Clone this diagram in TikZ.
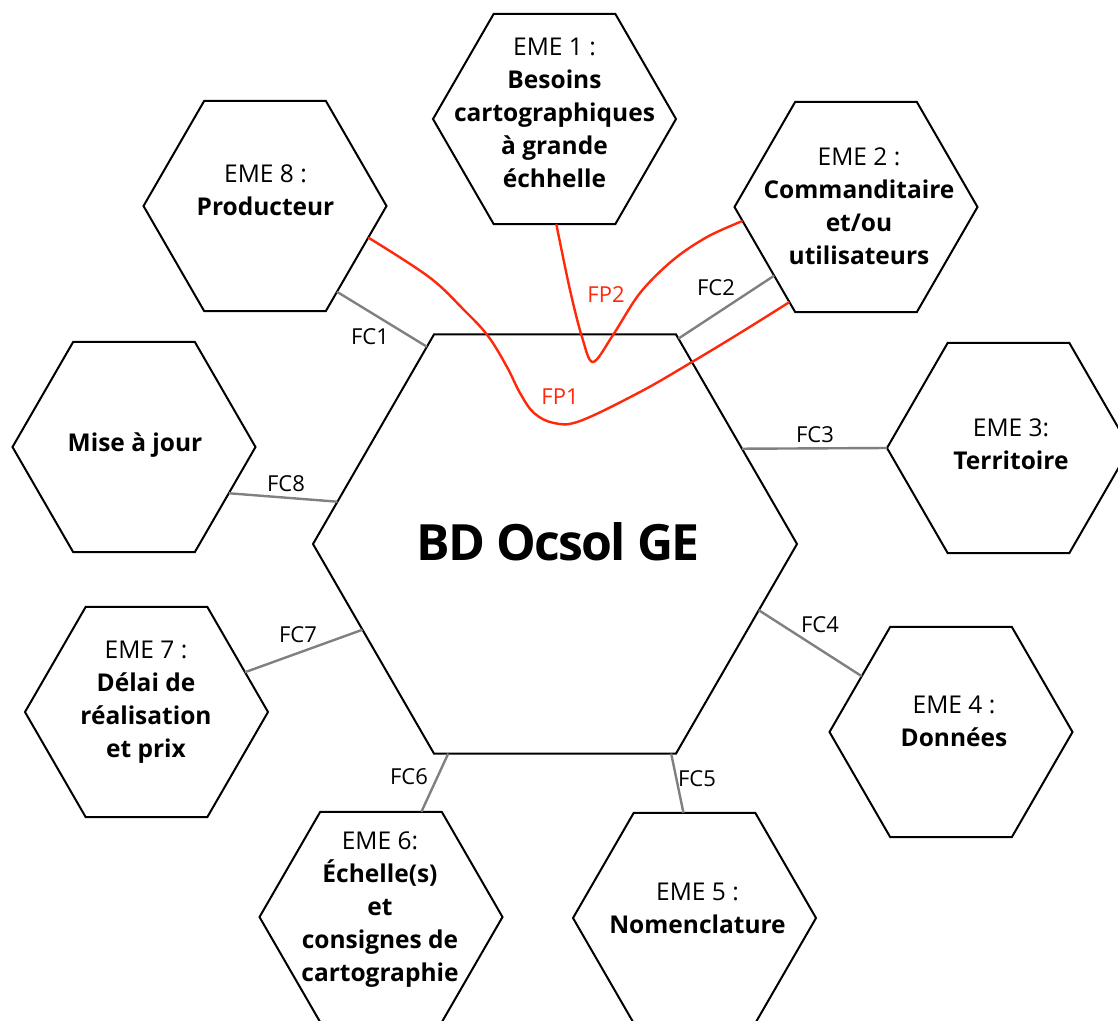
\documentclass[tikz,border=0pt]{standalone}
\usepackage{fontspec}
\setmainfont{Open Sans}
\usetikzlibrary{shapes.geometric}
\definecolor{fpred}{RGB}{255,40,10}
\definecolor{fcgray}{RGB}{128,128,128}
\begin{document}
\begin{tikzpicture}[x=1pt,y=-1pt,
  hexsmall/.style={shape=regular polygon, regular polygon sides=6, minimum size=243pt, inner sep=0pt, outer sep=0pt, draw=black, line width=2pt},
  hexbig/.style={hexsmall, minimum size=484pt},
  lbl/.style={align=center, font=\fontsize{24.5}{33}\selectfont, inner sep=0pt},
  fc/.style={draw=fcgray, line width=2.4pt},
  fp/.style={draw=fpred, line width=2.4pt},
  fclbl/.style={font=\fontsize{22}{26}\selectfont, inner sep=0pt},
  fplbl/.style={fclbl, text=fpred}]
\useasboundingbox (0,0) rectangle (1118,1020);
\clip (0,0) rectangle (1118,1020);

% hexagons
\node[hexbig] (c) at (555,544) {};
\node[hexsmall] (e1) at (554.5,119) {};
\node[hexsmall] (e2) at (856,207) {};
\node[hexsmall] (e3) at (1008.5,448) {};
\node[hexsmall] (e4) at (951,732) {};
\node[hexsmall] (e5) at (694.5,918) {};
\node[hexsmall] (e6) at (381,917) {};
\node[hexsmall] (e7) at (146.5,712) {};
\node[hexsmall] (e8) at (265,206) {};
\node[hexsmall] (emaj) at (134,447) {};

% texts
\node[font=\fontsize{50}{60}\selectfont\bfseries\addfontfeature{LetterSpace=-3.5}, inner sep=0pt] (title) at (558,542) {BD Ocsol GE};
\node[lbl] (t1) at (554.5,112.5) {EME 1 :\\\textbf{Besoins}\\\textbf{cartographiques}\\\textbf{à grande}\\\textbf{échhelle}};
\node[lbl] (t2) at (859,206) {EME 2 :\\\textbf{Commanditaire}\\\textbf{et/ou}\\\textbf{utilisateurs}};
\node[lbl] (t3) at (1011,444.5) {EME 3:\\\textbf{Territoire}};
\node[lbl] (t4) at (954,721) {EME 4 :\\\textbf{Données}};
\node[lbl] (t5) at (697.5,908) {EME 5 :\\\textbf{Nomenclature}};
\node[lbl] (t6) at (380,910) {EME 6:\\\textbf{Échelle(s)}\\\textbf{et}\\\textbf{consignes de}\\\textbf{cartographie}};
\node[lbl] (t7) at (146,702) {EME 7 :\\\textbf{Délai de}\\\textbf{réalisation}\\\textbf{et prix}};
\node[lbl] (t8) at (265.5,190.5) {EME 8 :\\\textbf{Producteur}};
\node[lbl] (tmaj) at (135,445) {\textbf{Mise à jour}};

% FC connectors
\draw[fc] (e8.-50.5) -- (c.123.1);
\draw[fc] (e2.220.5) -- (c.59.6);
\draw[fc] (c.27.2) -- (e3.180);
\draw[fc] (c.-18.1) -- (e4.148.6);
\draw[fc] (c.-61.9) -- (e5.96.9);
\draw[fc] (c.-117) -- (e6.69.6);
\draw[fc] (c.204.6) -- (e7.22.9);
\draw[fc] (emaj.-26.4) -- (c.169.4);

% FP connectors
\draw[fp] plot[smooth, tension=0.6] coordinates {(e8.-17.8) (429,277) (464,310) (488,336) (507,367) (520,393) (534,413) (554,423) (580,421) (640,392) (692,362) (740,333) (e2.235.1)};
\draw[fp] plot[smooth, tension=0.55] coordinates {(e1.-89.2) (570,290) (582,337) (593,362) (613,335) (640,293) (673,260) (707,237) (e2.187)};

% labels
\node[fclbl] (l1) at (370,337) {FC1};
\node[fclbl] (l2) at (716,288) {FC2};
\node[fclbl] (l3) at (815,435) {FC3};
\node[fclbl] (l4) at (820,625) {FC4};
\node[fclbl] (l5) at (697,779) {FC5};
\node[fclbl] (l6) at (409,777) {FC6};
\node[fclbl] (l7) at (298,635) {FC7};
\node[fclbl] (l8) at (286,484) {FC8};
\node[fplbl] (p1) at (560,397) {FP1};
\node[fplbl] (p2) at (606,295) {FP2};
\end{tikzpicture}
\end{document}
